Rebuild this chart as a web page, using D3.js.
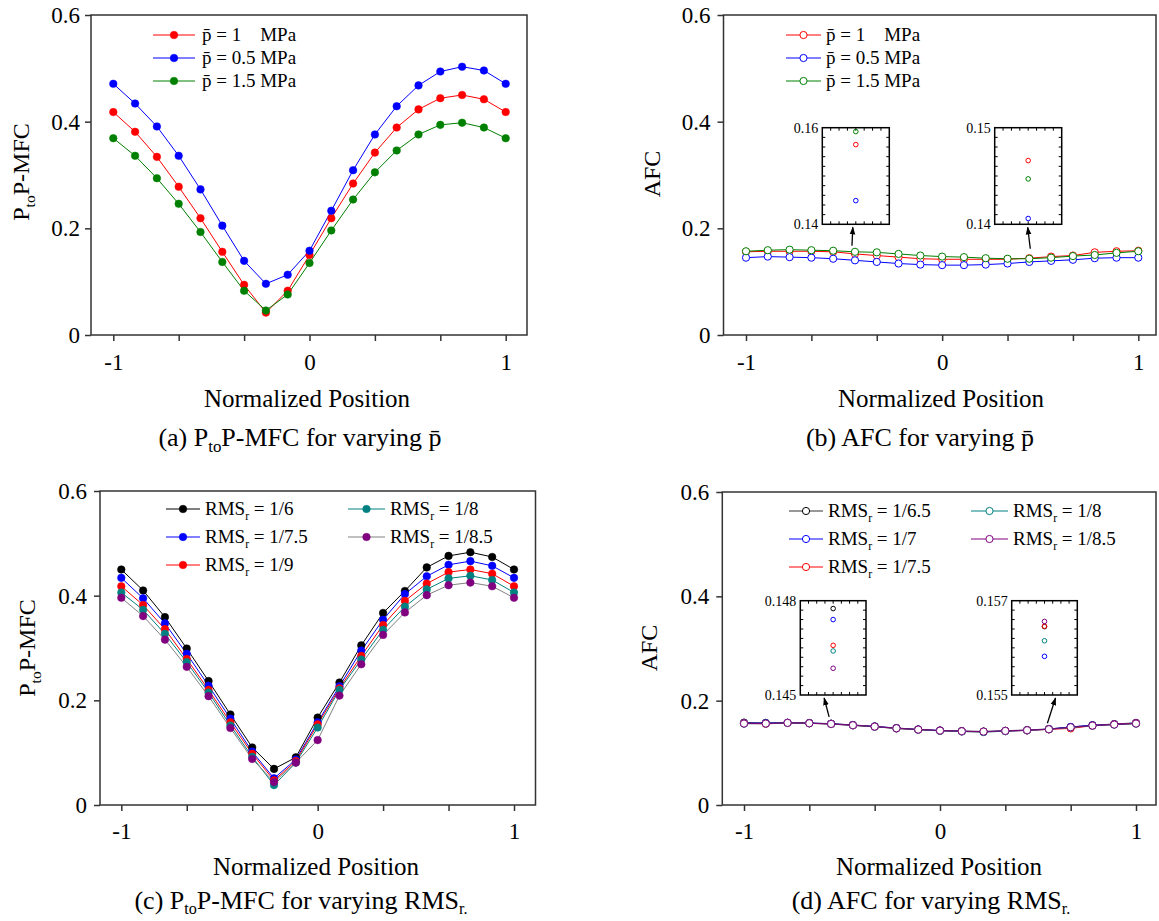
<!DOCTYPE html>
<html>
<head>
<meta charset="utf-8">
<script src="https://cdn.jsdelivr.net/npm/d3@7"></script>
<style>
  body { margin: 0; background: #fff; }
  text { font-family: "Liberation Serif", "Times New Roman", serif; fill: #000; }
</style>
</head>
<body>
<svg id="fig" width="1159" height="921"></svg>
<script>
// ---- data ----
var xPos = [-1, -0.8889, -0.7778, -0.6667, -0.5556, -0.4444, -0.3333, -0.2222, -0.1111, 0,
            0.1111, 0.2222, 0.3333, 0.4444, 0.5556, 0.6667, 0.7778, 0.8889, 1];

var xTickVals = [-1, -0.6667, -0.3333, 0, 0.3333, 0.6667, 1];
var xTickLabels = ['-1', '', '', '0', '', '', '1'];
var yTickVals = [0, 0.2, 0.4, 0.6];
var yTickLabels = ['0', '0.2', '0.4', '0.6'];

// (a) PtoP-MFC, varying mean pressure
var pLabels = ['1    MPa', '0.5 MPa', '1.5 MPa'];
var ptpP1  = [0.418, 0.381, 0.334, 0.278, 0.219, 0.156, 0.094, 0.042, 0.083, 0.150, 0.219, 0.284, 0.342, 0.389, 0.423, 0.444, 0.450, 0.442, 0.418];
var ptpP05 = [0.471, 0.434, 0.391, 0.336, 0.273, 0.205, 0.139, 0.096, 0.113, 0.158, 0.233, 0.309, 0.376, 0.429, 0.468, 0.494, 0.503, 0.496, 0.471];
var ptpP15 = [0.369, 0.336, 0.294, 0.246, 0.193, 0.137, 0.083, 0.046, 0.076, 0.135, 0.196, 0.254, 0.305, 0.346, 0.376, 0.394, 0.398, 0.389, 0.369];

// (b) AFC, varying mean pressure
var afcP1  = [0.156, 0.157, 0.157, 0.157, 0.156, 0.152, 0.149, 0.146, 0.143, 0.142, 0.142, 0.142, 0.142, 0.144, 0.147, 0.149, 0.155, 0.157, 0.158];
var afcP05 = [0.145, 0.147, 0.146, 0.145, 0.143, 0.140, 0.137, 0.134, 0.132, 0.131, 0.131, 0.132, 0.134, 0.137, 0.139, 0.141, 0.144, 0.145, 0.145];
var afcP15 = [0.157, 0.159, 0.160, 0.159, 0.158, 0.156, 0.155, 0.152, 0.149, 0.147, 0.146, 0.144, 0.143, 0.143, 0.145, 0.148, 0.150, 0.154, 0.157];
// zoomed insets: red, blue, green
var insetB1 = [0.1565, 0.1449, 0.1592];   // x = -4/9
var insetB2 = [0.1466, 0.1406, 0.1447];   // x = 4/9

// (c) PtoP-MFC, varying RMSr
var rmsLabelsC = ['1/6', '1/7.5', '1/9', '1/8', '1/8.5'];
var ptpR6   = [0.450, 0.410, 0.359, 0.299, 0.237, 0.173, 0.110, 0.069, 0.091, 0.167, 0.234, 0.305, 0.367, 0.409, 0.454, 0.476, 0.483, 0.474, 0.450];
var ptpR75  = [0.434, 0.395, 0.347, 0.289, 0.228, 0.165, 0.102, 0.051, 0.087, 0.158, 0.227, 0.295, 0.354, 0.403, 0.437, 0.459, 0.466, 0.457, 0.434];
var ptpR9   = [0.418, 0.382, 0.336, 0.279, 0.220, 0.158, 0.098, 0.047, 0.084, 0.154, 0.223, 0.285, 0.344, 0.390, 0.423, 0.445, 0.450, 0.442, 0.418];
var ptpR8   = [0.406, 0.373, 0.327, 0.273, 0.215, 0.152, 0.092, 0.038, 0.081, 0.148, 0.220, 0.278, 0.335, 0.379, 0.412, 0.433, 0.438, 0.430, 0.406];
var ptpR85  = [0.396, 0.361, 0.316, 0.264, 0.208, 0.147, 0.088, 0.044, 0.081, 0.124, 0.209, 0.269, 0.325, 0.368, 0.401, 0.420, 0.425, 0.418, 0.396];

// (d) AFC, varying RMSr
var rmsLabelsD = ['1/6.5', '1/7', '1/7.5', '1/8', '1/8.5'];
var afcR65 = [0.1580, 0.1575, 0.1578, 0.1572, 0.1560, 0.1535, 0.1508, 0.1476, 0.1450, 0.1430, 0.1418, 0.1410, 0.1424, 0.1438, 0.1458, 0.1495, 0.1530, 0.1552, 0.1575];
var afcR7  = [0.1570, 0.1568, 0.1576, 0.1570, 0.1557, 0.1532, 0.1505, 0.1473, 0.1447, 0.1427, 0.1413, 0.1404, 0.1418, 0.1432, 0.1455, 0.1496, 0.1528, 0.1548, 0.1570];
var afcR75 = [0.1565, 0.1556, 0.1572, 0.1566, 0.1552, 0.1527, 0.1500, 0.1468, 0.1443, 0.1423, 0.1410, 0.1402, 0.1416, 0.1430, 0.1450, 0.1468, 0.1520, 0.1545, 0.1566];
var afcR8  = [0.1558, 0.1560, 0.1572, 0.1565, 0.1551, 0.1526, 0.1499, 0.1467, 0.1442, 0.1421, 0.1408, 0.1398, 0.1414, 0.1430, 0.1450, 0.1486, 0.1519, 0.1540, 0.1558];
var afcR85 = [0.1561, 0.1561, 0.1574, 0.1567, 0.1554, 0.1529, 0.1503, 0.1471, 0.1446, 0.1426, 0.1414, 0.1407, 0.1420, 0.1433, 0.1452, 0.1490, 0.1522, 0.1542, 0.1561];
// insets: black, blue, red, teal, purple
var insetD1 = [0.14775, 0.1474, 0.14658, 0.1464, 0.14585];  // x = -5/9
var insetD2 = [0.15645, 0.15582, 0.15646, 0.15615, 0.15656]; // x = 5/9

var RED = '#ff0000', BLUE = '#0000ff', GREEN = '#008000', BLACK = '#000000',
    TEAL = '#008080', PURPLE = '#800080', GREY = '#808080';
var frameColor = '#333333';
var serif = '"Liberation Serif", "Times New Roman", serif';

var svg = d3.select('#fig');

var defs = svg.append('defs');
defs.append('marker')
  .attr('id', 'arrowHead')
  .attr('viewBox', '0 0 10 10')
  .attr('refX', 9).attr('refY', 5)
  .attr('markerWidth', 8).attr('markerHeight', 8)
  .attr('markerUnits', 'userSpaceOnUse')
  .attr('orient', 'auto')
  .append('path')
  .attr('d', 'M0,1.5 L10,5 L0,8.5 Z')
  .attr('fill', '#000');

function pbarText(sel, rest) {
  sel.attr('xml:space', 'preserve').style('white-space', 'pre');
  sel.append('tspan').text('p\u0304');
  sel.append('tspan').text(' = ' + rest);
}

function rmsText(sel, val) {
  sel.append('tspan').text('RMS');
  sel.append('tspan').attr('dy', 5).attr('font-size', '0.62em').text('r');
  sel.append('tspan').attr('dy', -5).text(' = ' + val);
}

function ptopText(sel) {
  sel.append('tspan').text('P');
  sel.append('tspan').attr('dy', 6).attr('font-size', '0.65em').text('to');
  sel.append('tspan').attr('dy', -6).text('P-MFC');
}

function drawPanel(p) {
  var L = p.box[0], T = p.box[1], R = p.box[2], B = p.box[3];
  var x = d3.scaleLinear().domain([-1, 1]).range([p.xm1, p.xp1]);
  var y = d3.scaleLinear().domain([0, 0.6]).range([B, T]);
  var g = svg.append('g');

  var xa = g.append('g')
    .attr('transform', 'translate(0,' + B + ')')
    .call(d3.axisBottom(x).tickValues(xTickVals)
      .tickFormat(function(d, i) { return xTickLabels[i]; })
      .tickSizeInner(6).tickSizeOuter(0).tickPadding(p.xPad));
  xa.select('.domain').remove();

  var ya = g.append('g')
    .attr('transform', 'translate(' + L + ',0)')
    .call(d3.axisLeft(y).tickValues(yTickVals)
      .tickFormat(function(d, i) { return yTickLabels[i]; })
      .tickSizeInner(6).tickSizeOuter(0).tickPadding(p.yPad));
  ya.select('.domain').remove();

  g.selectAll('.tick line').attr('stroke', frameColor).attr('stroke-width', 1.5);
  g.selectAll('.tick text').attr('font-size', 23).attr('font-family', serif).attr('fill', '#000');
  xa.attr('font-family', serif); ya.attr('font-family', serif);

  g.append('rect')
    .attr('x', L).attr('y', T).attr('width', R - L).attr('height', B - T)
    .attr('fill', 'none').attr('stroke', frameColor).attr('stroke-width', 1.5);

  var line = d3.line()
    .x(function(d, i) { return x(xPos[i]); })
    .y(function(d) { return y(d); });

  p.series.forEach(function(s) {
    g.append('path').datum(s.values)
      .attr('d', line).attr('fill', 'none')
      .attr('stroke', s.line).attr('stroke-width', 1);
  });
  p.series.forEach(function(s) {
    g.selectAll(null).data(s.values).enter().append('circle')
      .attr('cx', function(d, i) { return x(xPos[i]); })
      .attr('cy', function(d) { return y(d); })
      .attr('r', p.filled ? 3.8 : 3.6)
      .attr('fill', p.filled ? s.color : '#fff')
      .attr('stroke', s.color)
      .attr('stroke-width', p.filled ? 0.5 : 1);
  });

  // legend
  p.series.forEach(function(s, k) {
    var lx = p.legCols[s.col], ly = p.legRows[s.row];
    g.append('line')
      .attr('x1', lx[0]).attr('x2', lx[1]).attr('y1', ly).attr('y2', ly)
      .attr('stroke', s.line).attr('stroke-width', 1);
    g.append('circle')
      .attr('cx', (lx[0] + lx[1]) / 2).attr('cy', ly)
      .attr('r', p.filled ? 3.8 : 3.6)
      .attr('fill', p.filled ? s.color : '#fff')
      .attr('stroke', s.color).attr('stroke-width', p.filled ? 0.5 : 1);
    var t = g.append('text')
      .attr('x', lx[1] + p.legGap).attr('y', ly).attr('dy', '0.33em')
      .attr('font-size', 19);
    p.legendText(t, s.label);
  });

  // axis titles and caption
  g.append('text')
    .attr('x', p.xTitle[0]).attr('y', p.xTitle[1]).attr('dy', '0.35em')
    .attr('text-anchor', 'middle').attr('font-size', 25)
    .text('Normalized Position');

  var yt = g.append('text')
    .attr('transform', 'translate(' + p.yTitle[0] + ',' + p.yTitle[1] + ') rotate(-90)')
    .attr('text-anchor', 'middle').attr('dy', '0.35em').attr('font-size', 24);
  p.yTitleText(yt);

  var cap = g.append('text')
    .attr('x', p.caption[0]).attr('y', p.caption[1]).attr('dy', '0.35em')
    .attr('text-anchor', 'middle').attr('font-size', 26);
  p.captionText(cap);

  // insets with arrows
  (p.insets || []).forEach(function(ins) {
    var iL = ins.box[0], iT = ins.box[1], iR = ins.box[2], iB = ins.box[3];
    var iy = d3.scaleLinear().domain(ins.domain).range([iB, iT]);
    var ig = g.append('g');
    ig.append('rect')
      .attr('x', iL).attr('y', iT).attr('width', iR - iL).attr('height', iB - iT)
      .attr('fill', '#fff').attr('stroke', '#000').attr('stroke-width', 1.5);
    var vt = d3.range(1, 10).map(function(k) { return ins.domain[0] + (ins.domain[1] - ins.domain[0]) * k / 10; });
    vt.forEach(function(v) {
      ig.append('line').attr('x1', iL).attr('x2', iL + 3).attr('y1', iy(v)).attr('y2', iy(v)).attr('stroke', '#000');
      ig.append('line').attr('x1', iR - 3).attr('x2', iR).attr('y1', iy(v)).attr('y2', iy(v)).attr('stroke', '#000');
    });
    d3.range(1, 8).forEach(function(k) {
      var hx = iL + (iR - iL) * k / 8;
      ig.append('line').attr('x1', hx).attr('x2', hx).attr('y1', iT).attr('y2', iT + 3).attr('stroke', '#000');
      ig.append('line').attr('x1', hx).attr('x2', hx).attr('y1', iB - 3).attr('y2', iB).attr('stroke', '#000');
    });
    ig.append('text').attr('x', iL - 4).attr('y', iT).attr('dy', '0.35em')
      .attr('text-anchor', 'end').attr('font-size', 14).text(ins.labels[1]);
    ig.append('text').attr('x', iL - 4).attr('y', iB).attr('dy', '0.35em')
      .attr('text-anchor', 'end').attr('font-size', 14).text(ins.labels[0]);
    ins.values.forEach(function(v, k) {
      ig.append('circle')
        .attr('cx', (iL + iR) / 2).attr('cy', iy(v)).attr('r', 2.3)
        .attr('fill', 'none').attr('stroke', ins.colors[k]).attr('stroke-width', 1);
    });
    var px = x(xPos[ins.idx]), py = y(ins.ref[ins.idx]);
    ig.append('line')
      .attr('x1', px + ins.from[0]).attr('y1', py + ins.from[1])
      .attr('x2', (iL + iR) / 2 + ins.toDx).attr('y2', iB + 3)
      .attr('stroke', '#000').attr('stroke-width', 1.3)
      .attr('marker-end', 'url(#arrowHead)');
  });
}

// (a)
drawPanel({
  box: [91, 15, 527, 335], xm1: 113.3, xp1: 505.7, xPad: 13, yPad: 5,
  filled: true,
  series: [
    { values: ptpP1,  color: RED,   line: RED,   label: pLabels[0], col: 0, row: 0 },
    { values: ptpP05, color: BLUE,  line: BLUE,  label: pLabels[1], col: 0, row: 1 },
    { values: ptpP15, color: GREEN, line: GREEN, label: pLabels[2], col: 0, row: 2 }
  ],
  legCols: [[153, 195]], legRows: [35, 58, 81], legGap: 7,
  legendText: pbarText,
  xTitle: [307, 398], yTitle: [21, 172], caption: [300, 437],
  yTitleText: ptopText,
  captionText: function(t) {
    t.attr('xml:space', 'preserve');
    t.append('tspan').text('(a) P');
    t.append('tspan').attr('dy', 6).attr('font-size', '0.65em').text('to');
    t.append('tspan').attr('dy', -6).text('P-MFC for varying p\u0304');
  }
});

// (b)
drawPanel({
  box: [723.5, 15, 1156, 335], xm1: 746, xp1: 1138.3, xPad: 13, yPad: 7,
  filled: false,
  series: [
    { values: afcP1,  color: RED,   line: RED,   label: pLabels[0], col: 0, row: 0 },
    { values: afcP05, color: BLUE,  line: BLUE,  label: pLabels[1], col: 0, row: 1 },
    { values: afcP15, color: GREEN, line: GREEN, label: pLabels[2], col: 0, row: 2 }
  ],
  legCols: [[786, 821]], legRows: [35, 58, 81], legGap: 5,
  legendText: pbarText,
  xTitle: [941, 398], yTitle: [652, 174], caption: [920, 437],
  yTitleText: function(t) { t.text('AFC'); },
  captionText: function(t) { t.text('(b) AFC for varying p\u0304'); },
  insets: [
    { box: [822.3, 127.7, 889.3, 224.3], domain: [0.14, 0.16], labels: ['0.14', '0.16'],
      values: insetB1, colors: [RED, BLUE, GREEN], idx: 5, ref: afcP15, from: [-3, -6], toDx: -3 },
    { box: [994.7, 127.7, 1061.7, 224.3], domain: [0.14, 0.15], labels: ['0.14', '0.15'],
      values: insetB2, colors: [RED, BLUE, GREEN], idx: 13, ref: afcP15, from: [1, -10], toDx: -0.5 }
  ]
});

// (c)
drawPanel({
  box: [100, 491, 535.5, 805], xm1: 121.3, xp1: 514, xPad: 12, yPad: 7,
  filled: true,
  series: [
    { values: ptpR6,  color: BLACK,  line: BLACK, label: rmsLabelsC[0], col: 0, row: 0 },
    { values: ptpR75, color: BLUE,   line: BLUE,  label: rmsLabelsC[1], col: 0, row: 1 },
    { values: ptpR9,  color: RED,    line: RED,   label: rmsLabelsC[2], col: 0, row: 2 },
    { values: ptpR8,  color: TEAL,   line: TEAL,  label: rmsLabelsC[3], col: 1, row: 0 },
    { values: ptpR85, color: PURPLE, line: GREY,  label: rmsLabelsC[4], col: 1, row: 1 }
  ],
  legCols: [[166, 200], [348, 385]], legRows: [509, 537, 565], legGap: 5,
  legendText: rmsText,
  xTitle: [316, 866], yTitle: [27, 648], caption: [301, 900],
  yTitleText: ptopText,
  captionText: function(t) {
    t.append('tspan').text('(c) P');
    t.append('tspan').attr('dy', 5).attr('font-size', '0.62em').text('to');
    t.append('tspan').attr('dy', -5).text('P-MFC for varying RMS');
    t.append('tspan').attr('dy', 5).attr('font-size', '0.62em').text('r.');
  }
});

// (d)
drawPanel({
  box: [722.3, 492, 1156, 805], xm1: 744, xp1: 1136, xPad: 12, yPad: 7,
  filled: false,
  series: [
    { values: afcR65, color: BLACK,  line: '#333333', label: rmsLabelsD[0], col: 0, row: 0 },
    { values: afcR7,  color: BLUE,   line: BLUE,      label: rmsLabelsD[1], col: 0, row: 1 },
    { values: afcR75, color: RED,    line: RED,       label: rmsLabelsD[2], col: 0, row: 2 },
    { values: afcR8,  color: TEAL,   line: TEAL,      label: rmsLabelsD[3], col: 1, row: 0 },
    { values: afcR85, color: PURPLE, line: PURPLE,    label: rmsLabelsD[4], col: 1, row: 1 }
  ],
  legCols: [[789, 823], [971, 1008]], legRows: [511, 539, 567], legGap: 5,
  legendText: rmsText,
  xTitle: [939, 866], yTitle: [649, 648], caption: [931, 900],
  yTitleText: function(t) { t.text('AFC'); },
  captionText: function(t) {
    t.append('tspan').text('(d) AFC for varying RMS');
    t.append('tspan').attr('dy', 5).attr('font-size', '0.62em').text('r.');
  },
  insets: [
    { box: [800.3, 600.7, 866, 695], domain: [0.145, 0.148], labels: ['0.145', '0.148'],
      values: insetD1, colors: [BLACK, BLUE, RED, TEAL, PURPLE], idx: 4, ref: afcR85, from: [-2, -7], toDx: -9 },
    { box: [1011.7, 600.7, 1077.3, 695], domain: [0.155, 0.157], labels: ['0.155', '0.157'],
      values: insetD2, colors: [BLACK, BLUE, RED, TEAL, PURPLE], idx: 14, ref: afcR85, from: [-1.5, -6], toDx: 11 }
  ]
});
</script>
</body>
</html>
